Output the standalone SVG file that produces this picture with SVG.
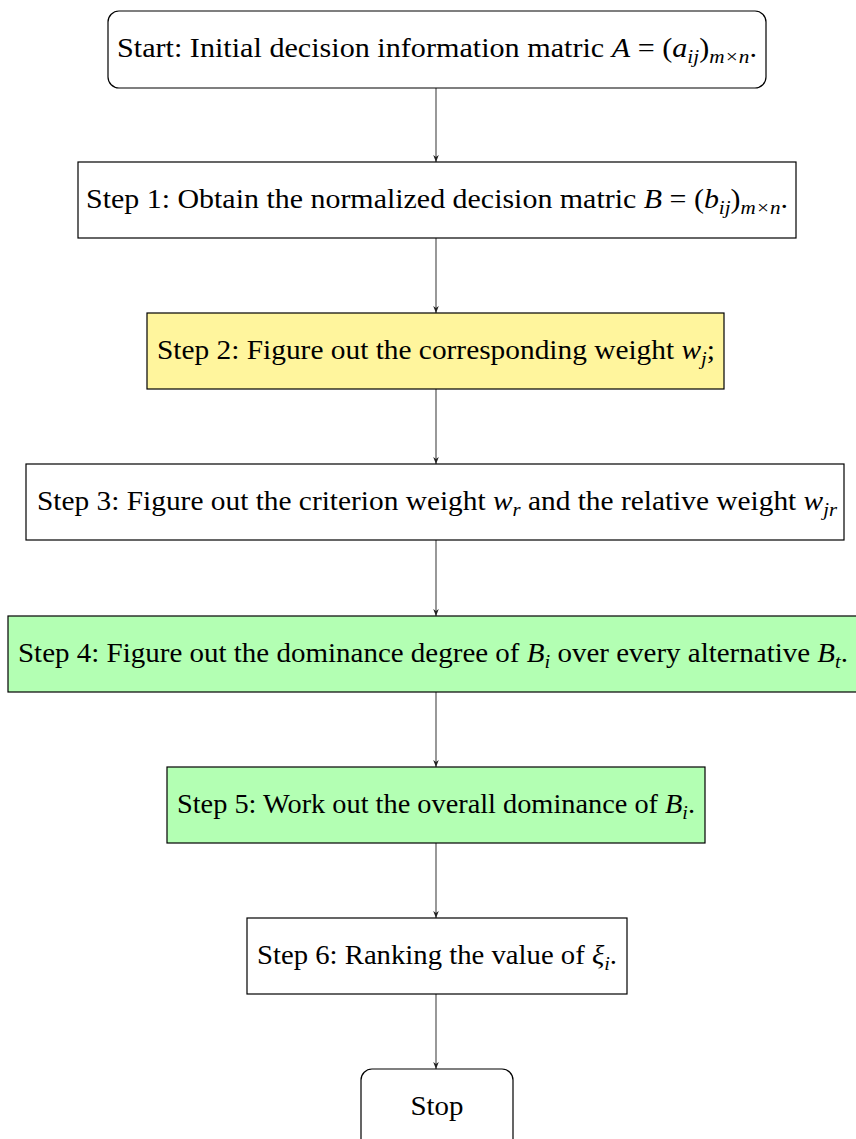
<svg xmlns="http://www.w3.org/2000/svg" width="856" height="1139" viewBox="0 0 856 1139">
<style>
.box{stroke:#000;stroke-width:1.2}
.t{font-family:"Liberation Serif","DejaVu Serif",serif;font-size:27px;fill:#000;text-anchor:middle}
.i{font-style:italic}
.s{font-size:19px;font-style:italic}
.c{stroke:#444;stroke-width:1.1;fill:none;marker-end:url(#ah)}
</style>
<defs>
<marker id="ah" viewBox="0 0 10 10" refX="10" refY="5" markerWidth="7" markerHeight="7" orient="auto" markerUnits="userSpaceOnUse">
<path d="M0,1 L10,5 L0,9 L3,5 Z" fill="#222"/>
</marker>
</defs>
<rect width="856" height="1139" fill="#fff"/>
<g id="connectors">
<line class="c" x1="436" y1="88" x2="436" y2="162"/>
<line class="c" x1="436" y1="238" x2="436" y2="313"/>
<line class="c" x1="436" y1="389" x2="436" y2="464"/>
<line class="c" x1="436" y1="540" x2="436" y2="616"/>
<line class="c" x1="436" y1="692" x2="436" y2="767"/>
<line class="c" x1="436" y1="843" x2="436" y2="918"/>
<line class="c" x1="436" y1="994" x2="436" y2="1069"/>
</g>
<g id="start">
<rect class="box" x="108" y="11" width="658" height="77" rx="11" fill="#fff"/>
<text class="t" x="437" y="57" textLength="640" lengthAdjust="spacingAndGlyphs">Start: Initial decision information matric <tspan class="i">A</tspan> = (<tspan class="i">a</tspan><tspan class="s" dy="6">ij</tspan><tspan dy="-6">)</tspan><tspan class="s" dy="6">m×n</tspan><tspan dy="-6">.</tspan></text>
</g>
<g id="step1">
<rect class="box" x="78" y="162" width="718" height="76" fill="#fff"/>
<text class="t" x="437" y="208" textLength="702" lengthAdjust="spacingAndGlyphs">Step 1: Obtain the normalized decision matric <tspan class="i">B</tspan> = (<tspan class="i">b</tspan><tspan class="s" dy="6">ij</tspan><tspan dy="-6">)</tspan><tspan class="s" dy="6">m×n</tspan><tspan dy="-6">.</tspan></text>
</g>
<g id="step2">
<rect class="box" x="147" y="313" width="577" height="76" fill="#fff59d"/>
<text class="t" x="436" y="359" textLength="558" lengthAdjust="spacingAndGlyphs">Step 2: Figure out the corresponding weight <tspan class="i">w</tspan><tspan class="s" dy="6">j</tspan><tspan dy="-6">;</tspan></text>
</g>
<g id="step3">
<rect class="box" x="26" y="464" width="818" height="76" fill="#fff"/>
<text class="t" x="437" y="510" textLength="800" lengthAdjust="spacingAndGlyphs">Step 3: Figure out the criterion weight <tspan class="i">w</tspan><tspan class="s" dy="6">r</tspan><tspan dy="-6"> and the relative weight </tspan><tspan class="i">w</tspan><tspan class="s" dy="6">jr</tspan></text>
</g>
<g id="step4">
<rect class="box" x="8" y="616" width="858" height="76" fill="#b3ffb3"/>
<text class="t" x="433" y="662" textLength="830" lengthAdjust="spacingAndGlyphs">Step 4: Figure out the dominance degree of <tspan class="i">B</tspan><tspan class="s" dy="6">i</tspan><tspan dy="-6"> over every alternative </tspan><tspan class="i">B</tspan><tspan class="s" dy="6">t</tspan><tspan dy="-6">.</tspan></text>
</g>
<g id="step5">
<rect class="box" x="167" y="767" width="538" height="76" fill="#b3ffb3"/>
<text class="t" x="436" y="813" textLength="518" lengthAdjust="spacingAndGlyphs">Step 5: Work out the overall dominance of <tspan class="i">B</tspan><tspan class="s" dy="6">i</tspan><tspan dy="-6">.</tspan></text>
</g>
<g id="step6">
<rect class="box" x="247" y="918" width="380" height="76" fill="#fff"/>
<text class="t" x="437" y="964" textLength="360" lengthAdjust="spacingAndGlyphs">Step 6: Ranking the value of <tspan class="i">ξ</tspan><tspan class="s" dy="6">i</tspan><tspan dy="-6">.</tspan></text>
</g>
<g id="stop">
<rect class="box" x="361" y="1069" width="152" height="90" rx="11" fill="#fff"/>
<text class="t" x="437" y="1115" textLength="53" lengthAdjust="spacingAndGlyphs">Stop</text>
</g>
</svg>
